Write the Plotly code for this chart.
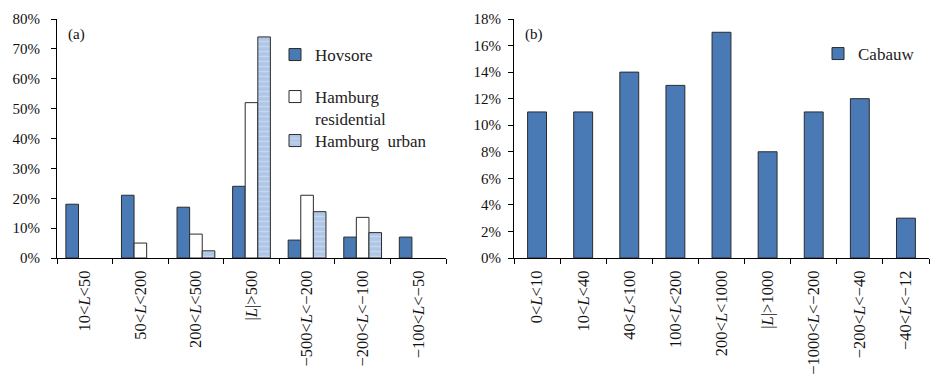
import plotly.graph_objects as go

# ---- data ----
cats_a = ["10<L<50", "50<L<200", "200<L<500", "|L|>500",
          "−500<L<−200", "−200<L<−100", "−100<L<−50"]
hovsore = [18, 21, 17, 24, 6, 7, 7]
hamburg_res = [None, 5, 8, 52, 21, 13.6, None]
hamburg_urb = [None, None, 2.4, 74, 15.5, 8.5, None]

cats_b = ["0<L<10", "10<L<40", "40<L<100", "100<L<200", "200<L<1000",
          "|L|>1000", "−1000<L<−200", "−200<L<−40", "−40<L<−12"]
cabauw = [11, 11, 14, 13, 17, 8, 11, 12, 3]

yticks_a = list(range(0, 81, 10))
yticks_b = list(range(0, 19, 2))


def fmt(label):
    s = label.replace("<", "&lt;").replace(">", "&gt;")
    return s.replace("L", "<i>L</i>")


FONT = "Liberation Serif"
BLUE = "#4a7ab5"
EDGE = "#2b2b2b"
W, H = 942, 392
TOP, BOT = 19, 258  # plot area in pixels


def py(ypx):
    return (BOT - ypx) / (BOT - TOP)


fig = go.Figure()
fig.add_trace(go.Bar(x=cats_a, y=hovsore, name="Hovsore", xaxis="x", yaxis="y",
                     marker=dict(color=BLUE, line=dict(color=EDGE, width=1)),
                     legend="legend", showlegend=True))
fig.add_trace(go.Bar(x=cats_a, y=hamburg_res, name="Hamburg<br>residential", xaxis="x", yaxis="y",
                     marker=dict(color="white", line=dict(color=EDGE, width=1)),
                     legend="legend2", showlegend=True))
fig.add_trace(go.Bar(x=cats_a, y=hamburg_urb, name="Hamburg  urban", xaxis="x", yaxis="y",
                     marker=dict(color="#b3c8e8", line=dict(color=EDGE, width=1),
                                 pattern=dict(shape="-", fgcolor="#dbe6f5", bgcolor="#b0c6e6",
                                              size=5, solidity=0.3)),
                     legend="legend3", showlegend=True))
fig.add_trace(go.Bar(x=cats_b, y=cabauw, name="Cabauw", xaxis="x2", yaxis="y2",
                     marker=dict(color=BLUE, line=dict(color=EDGE, width=1)),
                     width=0.41, legend="legend4", showlegend=True))

axis_common = dict(showline=True, linecolor="black", linewidth=1, ticks="outside",
                   ticklen=5, tickcolor="black", showgrid=False, zeroline=False)
xfont = dict(family=FONT, size=16.5, color="#111")
yfont = dict(family=FONT, size=15, color="#111")

legend_common = dict(bgcolor="rgba(0,0,0,0)", borderwidth=0, xanchor="left", yanchor="top",
                     font=dict(family=FONT, size=17, color="#222"), valign="top",
                     itemwidth=30)

fig.update_layout(
    width=W, height=H,
    margin=dict(l=0, r=0, t=TOP, b=H - BOT),
    paper_bgcolor="white", plot_bgcolor="white",
    showlegend=True,
    barmode="group", bargap=0.32, bargroupgap=0,
    font=dict(family=FONT, size=15, color="#111"),
    xaxis=dict(domain=[57 / W, 446 / W], anchor="y", type="category",
               tickson="boundaries", tickangle=-90, tickfont=xfont, ticklabelstandoff=5,
               tickvals=cats_a, ticktext=[fmt(c) for c in cats_a], **axis_common),
    yaxis=dict(domain=[0, 1], anchor="x", range=[0, 80], tickvals=yticks_a,
               tickfont=yfont, ticklabelstandoff=8,
               ticktext=[f"{v}%" for v in yticks_a], **axis_common),
    xaxis2=dict(domain=[514 / W, 929 / W], anchor="y2", type="category",
                tickson="boundaries", tickangle=-90, tickfont=xfont, ticklabelstandoff=5,
                tickvals=cats_b, ticktext=[fmt(c) for c in cats_b], **axis_common),
    yaxis2=dict(domain=[0, 1], anchor="x2", range=[0, 18], tickvals=yticks_b,
                tickfont=yfont, ticklabelstandoff=4,
                ticktext=[f"{v}%" for v in yticks_b], **axis_common),
    legend=dict(x=275 / W, y=py(37), **legend_common),
    legend2=dict(x=275 / W, y=py(79), **legend_common),
    legend3=dict(x=275 / W, y=py(123), **legend_common),
    legend4=dict(x=818 / W, y=py(36), **legend_common),
    annotations=[
        dict(text="(a)", x=66 / W, y=py(35), xref="paper", yref="paper",
             xanchor="left", yanchor="middle", showarrow=False,
             font=dict(family=FONT, size=15, color="#111")),
        dict(text="(b)", x=523 / W, y=py(34), xref="paper", yref="paper",
             xanchor="left", yanchor="middle", showarrow=False,
             font=dict(family=FONT, size=15, color="#111")),
    ],
)

fig.write_html("out.html", config={"displayModeBar": False},
               post_script="document.body.style.margin='0';")
